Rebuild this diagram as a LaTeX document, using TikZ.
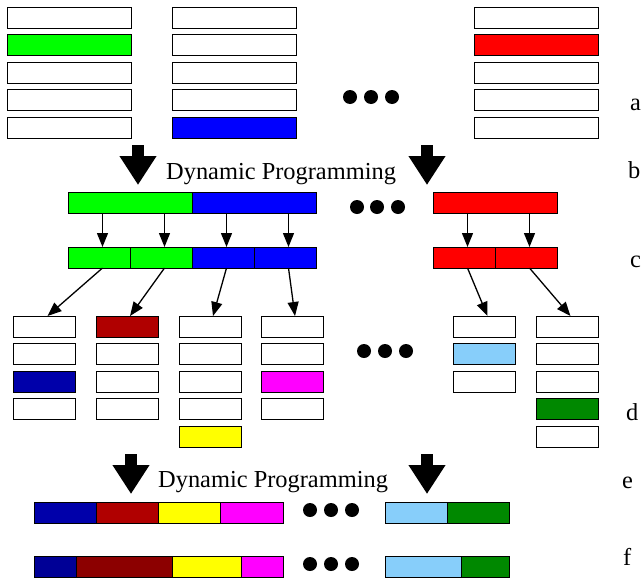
\documentclass[tikz,border=0pt]{standalone}
\usepackage{fontspec}
\setmainfont{Liberation Serif}
\usetikzlibrary{positioning, arrows.meta}

\definecolor{segGreen}{RGB}{0,255,0}
\definecolor{segBlue}{RGB}{0,0,255}
\definecolor{segRed}{RGB}{255,0,0}
\definecolor{segNavy}{RGB}{0,0,170}
\definecolor{segNavyB}{RGB}{0,0,150}
\definecolor{segMaroon}{RGB}{176,0,0}
\definecolor{segMaroonB}{RGB}{140,0,0}
\definecolor{segYellow}{RGB}{255,255,0}
\definecolor{segPink}{RGB}{255,0,255}
\definecolor{segSky}{RGB}{135,206,250}
\definecolor{segLeaf}{RGB}{0,136,0}

\begin{document}
\begin{tikzpicture}[x=1pt,y=-1pt,font=\fontsize{24.4}{29}\selectfont,
	cell/.style={draw,line width=0.8pt,minimum width=124pt,minimum height=21pt,inner sep=0pt,outer sep=0pt},
	half/.style={cell,minimum width=62pt},
	smallarrow/.style={line width=1.3pt,-{Triangle[width=11pt,length=14pt]}},
	bigarrow/.style={line width=12pt,-{Triangle[width=35pt,length=29pt]}},
	tag/.style={anchor=base west,inner sep=0pt}]
	
	\useasboundingbox (0,0) rectangle (642,581);
	
	%Input lists
	\foreach \c [count=\i] in {white,segGreen,white,white,white}
	\node[cell,fill=\c] (aL\i) at (69,{17.5+27.5*(\i-1)}) {};
	\foreach \c [count=\i] in {white,white,white,white,segBlue}
	\node[cell,fill=\c] (aM\i) at (234,{17.5+27.5*(\i-1)}) {};
	\foreach \c [count=\i] in {white,segRed,white,white,white}
	\node[cell,fill=\c] (aR\i) at (536,{17.5+27.5*(\i-1)}) {};
	\foreach \x in {350,371,392} \fill (\x,97) circle (7pt);
	
	%First dynamic programming step
	\coordinate (dpInL) at (138,145);
	\coordinate (dpInR) at (427,145);
	\draw[bigarrow] (dpInL) -- ++(0,40);
	\draw[bigarrow] (dpInR) -- ++(0,40);
	\node[tag] (dpOne) at (166,179) {Dynamic Programming};
	
	%Merged bars
	\node[cell,fill=segGreen] (bG) at (130,202.5) {};
	\node[cell,fill=segBlue,right=0pt of bG] (bB) {};
	\node[cell,fill=segRed] (bR) at (495,202.5) {};
	\foreach \x in {357,377,398} \fill (\x,207) circle (7pt);
	
	%Split bars
	\node[half,fill=segGreen] (c1) at (99,257.5) {};
	\node[half,fill=segGreen,right=0pt of c1] (c2) {};
	\node[half,fill=segBlue,right=0pt of c2] (c3) {};
	\node[half,fill=segBlue,right=0pt of c3] (c4) {};
	\node[half,fill=segRed] (c5) at (464,257.5) {};
	\node[half,fill=segRed,right=0pt of c5] (c6) {};
	\foreach \n in {c1,c2,c3,c4,c5,c6}
	\draw[smallarrow] ([xshift=3.5pt]\n.north |- bG.south) -- ([xshift=3.5pt]\n.north);
	
	%Second level lists
	\foreach \x/\cl [count=\k] in {44.5/{white,white,segNavy,white},
		127/{segMaroon,white,white,white},
		210/{white,white,white,white,segYellow},
		292/{white,white,segPink,white},
		484.5/{white,segSky,white},
		567.5/{white,white,white,segLeaf,white}}
	\foreach \c [count=\i] in \cl
	\node[half,fill=\c] (d\k-\i) at (\x,{326.5+27.5*(\i-1)}) {};
	\foreach \k in {1,...,6}
	\draw[smallarrow] ([xshift=3.5pt]c\k.south) -- ([xshift=3pt]d\k-1.north);
	\foreach \x in {364,385,406} \fill (\x,351) circle (7pt);
	
	%Second dynamic programming step
	\coordinate (dpOutL) at (131,454);
	\coordinate (dpOutR) at (427,454);
	\draw[bigarrow] (dpOutL) -- ++(0,40);
	\draw[bigarrow] (dpOutR) -- ++(0,40);
	\node[tag] (dpTwo) at (158,487) {Dynamic Programming};
	
	%Result bars
	\node[cell,minimum width=62.25pt,fill=segNavy] (e1) at (65.1,512.5) {};
	\node[cell,minimum width=62.25pt,fill=segMaroon,right=0pt of e1] (e2) {};
	\node[cell,minimum width=62.25pt,fill=segYellow,right=0pt of e2] (e3) {};
	\node[cell,minimum width=62.25pt,fill=segPink,right=0pt of e3] (e4) {};
	\node[half,fill=segSky] (e5) at (416,512.5) {};
	\node[half,fill=segLeaf,right=0pt of e5] (e6) {};
	\foreach \x in {310,331,352} \fill (\x,510) circle (7pt);
	
	\node[cell,minimum width=42pt,fill=segNavyB,anchor=west] (f1) at (34,567) {};
	\node[cell,minimum width=96pt,fill=segMaroonB,right=0pt of f1] (f2) {};
	\node[cell,minimum width=69pt,fill=segYellow,right=0pt of f2] (f3) {};
	\node[cell,minimum width=42pt,fill=segPink,right=0pt of f3] (f4) {};
	\node[cell,minimum width=76pt,fill=segSky,anchor=west] (f5) at (385,567) {};
	\node[cell,minimum width=48pt,fill=segLeaf,right=0pt of f5] (f6) {};
	\foreach \x in {310,331,352} \fill (\x,564) circle (7pt);
	
	%Row tags
	\node[tag] (tagA) at (630,110) {a};
	\node[tag] (tagB) at (628,178) {b};
	\node[tag] (tagC) at (630,267) {c};
	\node[tag] (tagD) at (626,420) {d};
	\node[tag] (tagE) at (622,488) {e};
	\node[tag] (tagF) at (623,565) {f};
	
\end{tikzpicture}
\end{document}
